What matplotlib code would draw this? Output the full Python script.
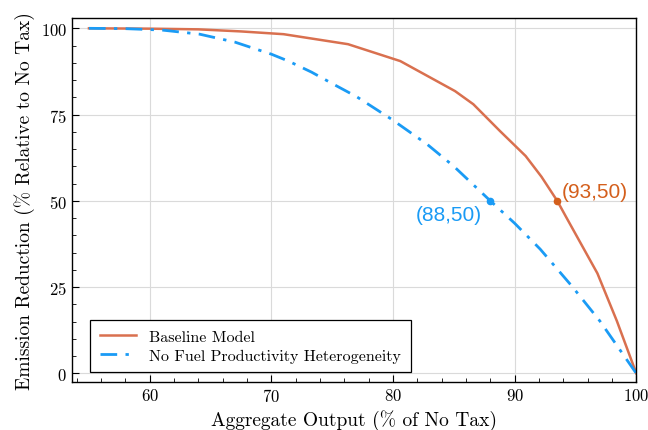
import numpy as np
import matplotlib.pyplot as plt
from matplotlib.ticker import MultipleLocator

plt.rcParams['font.family'] = 'serif'
plt.rcParams['font.serif'] = ['cmr10']
plt.rcParams['mathtext.fontset'] = 'cm'
plt.rcParams['axes.formatter.use_mathtext'] = True

# baseline model
base_x = [55, 60, 64, 67.5, 71, 76.3, 80.6, 85.1, 86.6, 88.8, 90.9, 92.2, 93.5, 94.2, 96.8, 98.4, 100]
base_y = [100, 99.9, 99.7, 99.1, 98.3, 95.4, 90.5, 81.8, 78, 70.2, 63, 57, 50, 45.5, 29, 15.2, 0]

# no fuel productivity heterogeneity
nofp_x = [55, 58, 61, 64.1, 67, 70, 71.4, 73.3, 75.1, 77, 79.9, 82.8, 85, 88, 90, 92.1, 94.7, 97, 100]
nofp_y = [100, 99.9, 99.5, 98.3, 96, 92.5, 90.5, 87.3, 83.8, 80.2, 73.6, 66.4, 60, 50, 43.5, 36, 25.3, 15.2, 0]

base_col = '#d9704f'
base_pt = '#d45f1c'
nofp_col = '#1a9bf5'

fig, ax = plt.subplots(figsize=(6.48, 4.31), dpi=100)

ax.plot(base_x, base_y, color=base_col, lw=1.8, label='Baseline Model')
ax.plot(nofp_x, nofp_y, color=nofp_col, lw=2.0, dashes=[6, 3, 1.2, 3],
        label='No Fuel Productivity Heterogeneity')

ax.plot(93.5, 50, 'o', color=base_pt, ms=4.5)
ax.plot(88, 50, 'o', color=nofp_col, ms=4.5)
ax.text(93.9, 52.8, '(93,50)', color=base_pt, fontsize=15, family='Liberation Sans',
        ha='left', va='center')
ax.text(87.3, 46.0, '(88,50)', color=nofp_col, fontsize=15, family='Liberation Sans',
        ha='right', va='center')

ax.set_xlim(53.6, 100)
ax.set_ylim(-2.4, 103)
ax.set_xticks([60, 70, 80, 90, 100])
ax.set_yticks([0, 25, 50, 75, 100])
ax.xaxis.set_minor_locator(MultipleLocator(2))
ax.yaxis.set_minor_locator(MultipleLocator(5))
ax.tick_params(which='both', direction='in', top=False, right=False, labelsize=12)
ax.tick_params(which='major', length=5)
ax.tick_params(which='minor', length=3)
ax.grid(True, which='major', color='#dadada', lw=0.8)
for s in ax.spines.values():
    s.set_linewidth(1.0)

ax.set_xlabel('Aggregate Output (% of No Tax)', fontsize=14)
ax.set_ylabel('Emission Reduction (% Relative to No Tax)', fontsize=14)

leg = ax.legend(loc='lower left', fontsize=11.5, fancybox=False, framealpha=1,
                edgecolor='black', borderpad=0.6, handlelength=2.3,
                labelspacing=0.3, bbox_to_anchor=(0.018, 0.004))
leg.get_frame().set_linewidth(0.9)

plt.subplots_adjust(left=0.111, right=0.982, top=0.956, bottom=0.112)
plt.savefig('out.png', dpi=100)
